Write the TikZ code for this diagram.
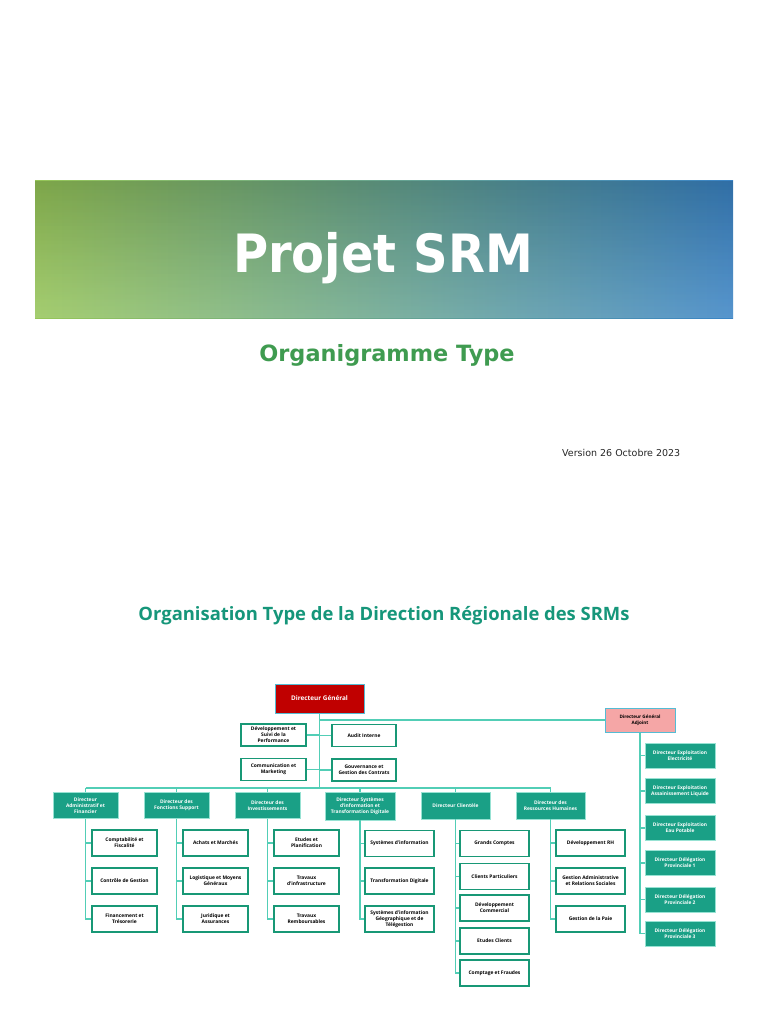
\documentclass[tikz,border=0pt]{standalone}
\usepackage{fontspec}
\usepackage{graphicx}
\setmainfont{Open Sans}
\newfontfamily\headfont{DejaVu Sans}
\usepackage{tikz}
\usetikzlibrary{positioning,fadings}
\definecolor{srmteal}{RGB}{26,160,134}
\definecolor{titleteal}{RGB}{22,150,122}
\definecolor{titlegreen}{RGB}{63,155,80}
\definecolor{unitgreen}{RGB}{24,152,118}
\definecolor{linkmint}{RGB}{82,206,182}
\definecolor{dgred}{RGB}{192,0,0}
\definecolor{dgapink}{RGB}{245,166,166}
\definecolor{dgborder}{RGB}{84,188,212}
\definecolor{bannerA}{RGB}{150,198,88}
\definecolor{bannerB}{RGB}{92,162,140}
\definecolor{bannerC}{RGB}{58,132,198}
\tikzset{
  boxtext/.style={font=\bfseries\fontsize{4.9}{6}\selectfont, align=center, inner sep=1pt},
  dgbox/.style={boxtext, fill=dgred, draw=dgborder, line width=1pt, text=white, minimum width=89pt, minimum height=29pt, font=\bfseries\fontsize{6.4}{7}\selectfont},
  dgabox/.style={boxtext, fill=dgapink, draw=dgborder, line width=1pt, text=black, minimum width=70pt, minimum height=24pt, font=\bfseries\fontsize{4.6}{5.6}\selectfont},
  staffbox/.style={boxtext, fill=white, draw=unitgreen, line width=1.3pt, text=black, minimum width=65pt, minimum height=22pt},
  dirbox/.style={boxtext, fill=srmteal, draw=linkmint!60, line width=.6pt, text=white, minimum width=65pt, minimum height=26pt},
  widedir/.style={dirbox, minimum width=69pt, minimum height=27pt},
  unitbox/.style={boxtext, fill=white, draw=unitgreen, line width=1.3pt, text=black, minimum width=65pt, minimum height=26pt},
  wideunit/.style={unitbox, minimum width=69pt},
  exploitbox/.style={dirbox, minimum width=70pt, minimum height=25pt},
  link/.style={draw=linkmint, line width=1.3pt}
}

\begin{document}
\begin{tikzpicture}[x=1pt,y=-1pt]
  \useasboundingbox (0,0) rectangle (768,1024);

  % header
  \shade[left color=bannerA, middle color=bannerB, right color=bannerC] (35,181) rectangle (733,318);
  \fill[black, opacity=.16, path fading=south] (35,181) rectangle (733,318);
  \fill[white, opacity=.15, path fading=north] (35,181) rectangle (733,318);
  \node[font=\headfont\bfseries\fontsize{48}{56}\selectfont, text=white, anchor=base] (title) at (383,272) {\scalebox{1}[1.1]{Projet SRM}};
  \node[font=\headfont\bfseries\fontsize{22.4}{26}\selectfont, text=titlegreen, anchor=base] (subtitle) at (387,361) {Organigramme Type};
  \node[font=\headfont\fontsize{9.5}{11}\selectfont, text=black!85, anchor=base west, inner sep=0pt] (version) at (562,456) {Version 26 Octobre 2023};
  \node[font=\bfseries, text=titleteal, anchor=base, inner sep=0pt] (orgtitle) at (384,620) {\resizebox{491pt}{!}{Organisation Type de la Direction Régionale des SRMs}};

  % top of the chart
  \node[dgbox] (dg) at (319.5,698.5) {Directeur Général};
  \node[dgabox] (dga) at (640,720) {Directeur Général\\Adjoint};
  \node[staffbox] (devperf) at (273.5,735) {Développement et\\Suivi de la\\Performance};
  \node[staffbox, minimum width=64pt] (audit) at (364,735.5) {Audit Interne};
  \node[staffbox] (comm) at (273.5,769.5) {Communication et\\Marketing};
  \node[staffbox, minimum width=64pt] (gouv) at (364,770) {Gouvernance et\\Gestion des Contrats};
  \coordinate (bar) at (0,788);

  % directors
  \node[dirbox] (daf) at (85.5,805.5) {Directeur\\Administratif et\\Financier};
  \node[dirbox] (dfs) at (176.5,805.5) {Directeur des\\Fonctions Support};
  \node[dirbox] (dinv) at (267.5,805.5) {Directeur des\\Investissements};
  \node[widedir, minimum width=70pt, minimum height=28pt] (dsi) at (360,806) {Directeur Systèmes\\d'information et\\Transformation Digitale};
  \node[widedir] (dcl) at (455.5,805.5) {Directeur Clientèle};
  \node[widedir] (drh) at (550.5,805.5) {Directeur des\\Ressources Humaines};

  % units
  \node[unitbox] (compta) at (124.5,843) {Comptabilité et\\Fiscalité};
  \node[unitbox] (ctrlg) at (124.5,881) {Contrôle de Gestion};
  \node[unitbox] (fintreso) at (124.5,919) {Financement et\\Trésorerie};
  \node[unitbox] (achats) at (215.5,843) {Achats et Marchés};
  \node[unitbox] (logist) at (215.5,881) {Logistique et Moyens\\Généraux};
  \node[unitbox] (juridique) at (215.5,919) {Juridique et\\Assurances};
  \node[unitbox] (etudes) at (306.5,843) {Etudes et\\Planification};
  \node[unitbox] (travinfra) at (306.5,881) {Travaux\\d'infrastructure};
  \node[unitbox] (travremb) at (306.5,919) {Travaux\\Remboursables};
  \node[wideunit] (sysinfo) at (399.5,843.5) {Systèmes d'information};
  \node[wideunit] (transdig) at (399.5,881) {Transformation Digitale};
  \node[wideunit] (sig) at (399.5,919) {Systèmes d'information\\Géographique et de\\Télégestion};
  \node[wideunit] (grands) at (494.5,843.5) {Grands Comptes};
  \node[wideunit] (particuliers) at (494.5,876.5) {Clients Particuliers};
  \node[wideunit] (devcom) at (494.5,908) {Développement\\Commercial};
  \node[wideunit] (etudescl) at (494.5,941) {Etudes Clients};
  \node[wideunit] (comptage) at (494.5,973) {Comptage et Fraudes};
  \node[wideunit] (devrh) at (590.5,843) {Développement RH};
  \node[wideunit] (gestadm) at (590.5,881) {Gestion Administrative\\et Relations Sociales};
  \node[wideunit] (paie) at (590.5,919) {Gestion de la Paie};

  % exploitation side
  \node[exploitbox] (exelec) at (680,755.5) {Directeur Exploitation\\Electricité};
  \node[exploitbox] (exassain) at (680,791) {Directeur Exploitation\\Assainissement Liquide};
  \node[exploitbox] (exeau) at (680,828) {Directeur Exploitation\\Eau Potable};
  \node[exploitbox] (deleg1) at (680,863) {Directeur Délégation\\Provinciale 1};
  \node[exploitbox] (deleg2) at (680,899.5) {Directeur Délégation\\Provinciale 2};
  \node[exploitbox] (deleg3) at (680,933.5) {Directeur Délégation\\Provinciale 3};

  % links
  \draw[link] (dg.south) -- (dg.south |- bar);
  \draw[link] (dg.south |- dga.west) -- (dga.west);
  \foreach \s in {devperf,comm} \draw[link] (\s.east) -- (\s.east -| dg.south);
  \foreach \s in {audit,gouv} \draw[link] (\s.west) -- (\s.west -| dg.south);
  \draw[link] (daf.north |- bar) -- (drh.north |- bar);
  \foreach \d in {daf,dfs,dinv,dsi,dcl,drh} \draw[link] (\d.north) -- (\d.north |- bar);
  \foreach \c in {compta,ctrlg,fintreso} \draw[link] (daf.south) |- (\c.west);
  \foreach \c in {achats,logist,juridique} \draw[link] (dfs.south) |- (\c.west);
  \foreach \c in {etudes,travinfra,travremb} \draw[link] (dinv.south) |- (\c.west);
  \foreach \c in {sysinfo,transdig,sig} \draw[link] (dsi.south) |- (\c.west);
  \foreach \c in {grands,particuliers,devcom,etudescl,comptage} \draw[link] (dcl.south) |- (\c.west);
  \foreach \c in {devrh,gestadm,paie} \draw[link] (drh.south) |- (\c.west);
  \foreach \c in {exelec,exassain,exeau,deleg1,deleg2,deleg3} \draw[link] (dga.south) |- (\c.west);
\end{tikzpicture}
\end{document}
